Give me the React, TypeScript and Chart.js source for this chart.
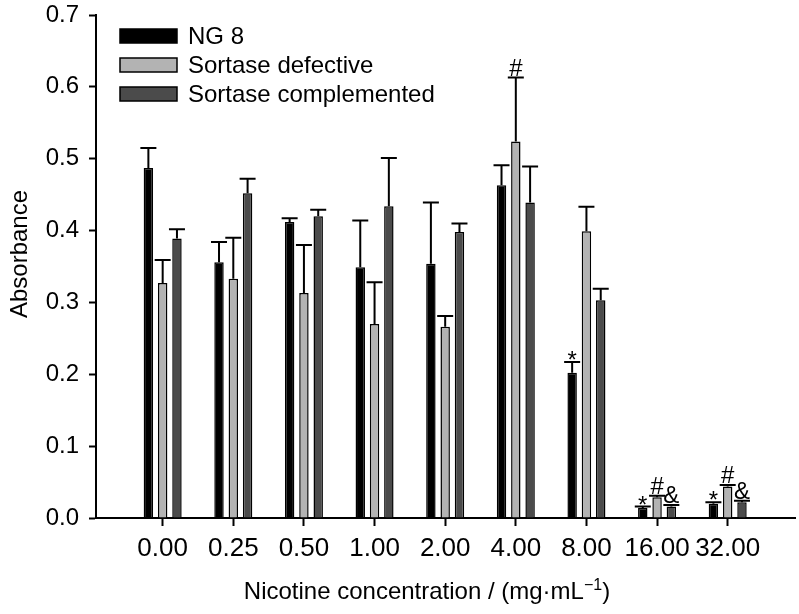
import React, { useEffect, useRef } from 'react';
import { Chart, registerables } from 'chart.js';

Chart.register(...registerables);

const categories = ['0.00', '0.25', '0.50', '1.00', '2.00', '4.00', '8.00', '16.00', '32.00'];
const seriesNames = ['NG 8', 'Sortase defective', 'Sortase complemented'];

const ng8 = [0.487, 0.356, 0.412, 0.349, 0.354, 0.463, 0.202, 0.014, 0.020];
const ng8Err = [0.028, 0.028, 0.005, 0.065, 0.085, 0.028, 0.015, 0.002, 0.002];
const ng8Marks = ['', '', '', '', '', '', '*', '*', '*'];

const defective = [0.327, 0.333, 0.313, 0.270, 0.266, 0.524, 0.399, 0.029, 0.044];
const defectiveErr = [0.032, 0.057, 0.067, 0.058, 0.015, 0.089, 0.034, 0.002, 0.002];
const defectiveMarks = ['', '', '', '', '', '#', '', '#', '#'];

const complemented = [0.389, 0.452, 0.420, 0.434, 0.398, 0.439, 0.303, 0.016, 0.022];
const complementedErr = [0.013, 0.020, 0.009, 0.067, 0.012, 0.050, 0.016, 0.002, 0.002];
const complementedMarks = ['', '', '', '', '', '', '', '&', '&'];

const yTicks = [0, 0.1, 0.2, 0.3, 0.4, 0.5, 0.6, 0.7];
const colors = ['#000000', '#b3b3b3', '#4b4b4b'];

const xTitleMain = 'Nicotine concentration / (mg·mL';
const xTitleSup = '−1';
const xTitleEnd = ')';
const yTitle = 'Absorbance';

const FONT = '"Liberation Sans", Arial, Helvetica, sans-serif';

export default function App() {
  const ref = useRef<HTMLCanvasElement>(null);

  useEffect(() => {
    const canvas = ref.current;
    if (!canvas) return;
    const series = [
      { values: ng8, errors: ng8Err, marks: ng8Marks },
      { values: defective, errors: defectiveErr, marks: defectiveMarks },
      { values: complemented, errors: complementedErr, marks: complementedMarks },
    ];

    const overlay = {
      id: 'overlay',
      afterDatasetsDraw(chart: any) {
        const ctx = chart.ctx as CanvasRenderingContext2D;
        const ys = chart.scales.y;
        ctx.save();
        ctx.strokeStyle = '#000';
        ctx.lineWidth = 2;
        series.forEach((s, di) => {
          const meta = chart.getDatasetMeta(di);
          meta.data.forEach((bar: any, i: number) => {
            const top = ys.getPixelForValue(s.values[i] + s.errors[i]);
            ctx.beginPath();
            ctx.moveTo(bar.x, bar.y);
            ctx.lineTo(bar.x, top);
            ctx.moveTo(bar.x - 8, top);
            ctx.lineTo(bar.x + 8, top);
            ctx.stroke();
            const m = s.marks[i];
            if (m) {
              ctx.fillStyle = '#000';
              ctx.font = `24px ${FONT}`;
              ctx.textAlign = 'center';
              ctx.textBaseline = 'alphabetic';
              ctx.fillText(m, bar.x, m === '*' ? top + 6 : top - 2);
            }
          });
        });

        // legend
        chart.data.datasets.forEach((ds: any, i: number) => {
          const by = 29 + i * 29;
          ctx.fillStyle = ds.backgroundColor;
          ctx.fillRect(120, by, 57, 14);
          ctx.lineWidth = 1.5;
          ctx.strokeStyle = '#000';
          ctx.strokeRect(120, by, 57, 14);
          ctx.fillStyle = '#000';
          ctx.font = `24px ${FONT}`;
          ctx.textAlign = 'left';
          ctx.textBaseline = 'middle';
          ctx.fillText(ds.label, 188, by + 8);
        });

        // x axis title with superscript
        ctx.fillStyle = '#000';
        ctx.textBaseline = 'alphabetic';
        ctx.textAlign = 'left';
        const mainFont = `24px ${FONT}`;
        const supFont = `16px ${FONT}`;
        ctx.font = mainFont;
        const w1 = ctx.measureText(xTitleMain).width;
        const w3 = ctx.measureText(xTitleEnd).width;
        ctx.font = supFont;
        const w2 = ctx.measureText(xTitleSup).width;
        const total = w1 + w2 + w3;
        let tx = 427 - total / 2;
        const ty = 599;
        ctx.font = mainFont;
        ctx.fillText(xTitleMain, tx, ty);
        tx += w1;
        ctx.font = supFont;
        ctx.fillText(xTitleSup, tx, ty - 9);
        tx += w2;
        ctx.font = mainFont;
        ctx.fillText(xTitleEnd, tx, ty);

        // y axis title
        ctx.save();
        ctx.translate(27, 254);
        ctx.rotate(-Math.PI / 2);
        ctx.textAlign = 'center';
        ctx.font = `24px ${FONT}`;
        ctx.fillText(yTitle, 0, 0);
        ctx.restore();
        ctx.restore();
      },
    };

    const chart = new Chart(canvas, {
      type: 'bar',
      data: {
        datasets: seriesNames.map((name, di) => ({
          label: name,
          data: series[di].values.map((v, i) => ({ x: i, y: v })),
          backgroundColor: colors[di],
          borderColor: '#000',
          borderWidth: 1.5,
          categoryPercentage: 0.607,
          barPercentage: 0.66,
        })),
      },
      options: {
        responsive: false,
        maintainAspectRatio: false,
        devicePixelRatio: 1,
        animation: false,
        events: [],
        layout: { padding: { left: 0, right: 4, top: 15, bottom: 0 } },
        plugins: { legend: { display: false }, tooltip: { enabled: false } },
        scales: {
          x: {
            type: 'linear',
            offset: false,
            min: -0.944,
            max: 8.953,
            afterBuildTicks: (axis: any) => {
              axis.ticks = categories.map((_, i) => ({ value: i }));
            },
            afterFit: (axis: any) => {
              axis.height = 96;
              axis.paddingLeft = 0;
              axis.paddingRight = 0;
            },
            ticks: {
              autoSkip: false,
              maxRotation: 0,
              color: '#000',
              padding: 7,
              font: { family: FONT, size: 26 },
              callback: (_v: any, i: number) => categories[i],
            },
            grid: { offset: false, drawOnChartArea: false, drawTicks: true, tickLength: 8, tickWidth: 2, tickColor: '#000' },
            border: { display: true, color: '#000', width: 2 },
          },
          y: {
            type: 'linear',
            min: 0,
            max: 0.7,
            afterBuildTicks: (axis: any) => {
              axis.ticks = yTicks.map((v) => ({ value: v }));
            },
            afterFit: (axis: any) => {
              axis.width = 96;
              axis.paddingTop = 0;
              axis.paddingBottom = 0;
            },
            ticks: {
              color: '#000',
              padding: 10,
              font: { family: FONT, size: 24 },
              callback: (v: any) => Number(v).toFixed(1),
            },
            grid: { drawOnChartArea: false, drawTicks: true, tickLength: 7, tickWidth: 2, tickColor: '#000' },
            border: { display: true, color: '#000', width: 2 },
          },
        },
      },
      plugins: [overlay],
    });
    return () => chart.destroy();
  }, []);

  return (
    <div style={{ position: 'absolute', left: 0, top: 0, width: 799, height: 614, background: '#fff' }}>
      <canvas ref={ref} width={799} height={614} style={{ display: 'block' }} />
    </div>
  );
}
